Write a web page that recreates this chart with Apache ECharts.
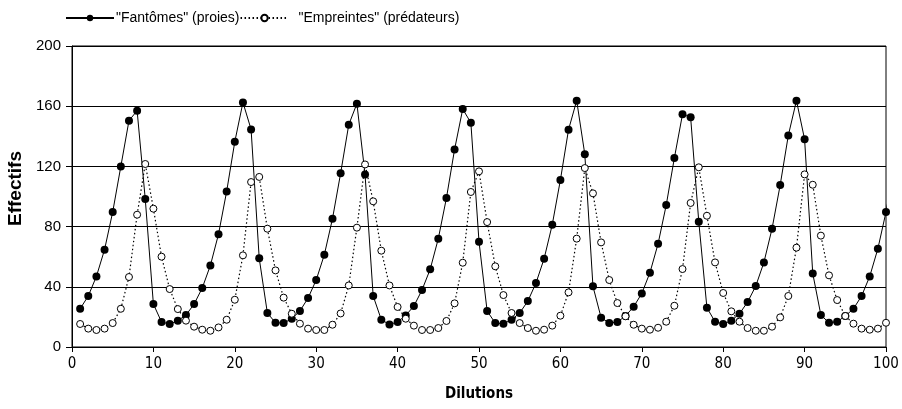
<!DOCTYPE html>
<html>
<head>
<meta charset="utf-8">
<script src="https://cdn.jsdelivr.net/npm/echarts@6/dist/echarts.min.js"></script>
<style>html,body{margin:0;padding:0;background:#fff}#c{width:902px;height:409px}</style>
</head>
<body>
<div id="c"></div>
<script>
const dilutions = [1,2,3,4,5,6,7,8,9,10,11,12,13,14,15,16,17,18,19,20,21,22,23,24,25,26,27,28,29,30,31,32,33,34,35,36,37,38,39,40,41,42,43,44,45,46,47,48,49,50,51,52,53,54,55,56,57,58,59,60,61,62,63,64,65,66,67,68,69,70,71,72,73,74,75,76,77,78,79,80,81,82,83,84,85,86,87,88,89,90,91,92,93,94,95,96,97,98,99,100,101];
const fantomes = [25.4,33.9,46.9,64.7,89.7,120,150.4,157,98.3,28.5,16.6,15.3,17.5,21.2,28.5,39.2,54.2,75,103.4,136.4,162.5,144.6,58.9,22.6,16.1,15.9,18.8,23.9,32.5,44.5,61.3,85.2,115.4,147.7,161.7,114.7,33.9,18.1,15,16.6,21,27.2,37.9,51.6,72,99,131.3,158.1,149,70,23.9,15.9,15.5,18.1,22.6,30.5,42.5,58.7,81.3,111,144.4,163.7,128,40.3,19.5,15.9,16.6,20.6,26.8,35.6,49.4,68.6,94.3,125.6,154.6,152.6,83.3,26.1,16.8,15.3,17.5,22.1,29.9,40.5,56.2,78.6,107.6,140.6,163.7,138,48.9,21.2,16.1,16.8,20.6,25.4,33.9,46.9,65.3,89.7,121];
const empreintes = [15.3,12.2,11.3,12.2,15.9,25.4,46.5,87.9,121.6,91.9,60,38.5,25.2,17.5,13.5,11.5,10.8,13,18.1,31.4,60.9,109.6,113,78.6,50.9,32.8,22.1,15.5,12.2,11.3,11.3,14.8,22.3,40.9,79.3,121.3,96.8,64,40.9,26.6,18.8,14.2,11.3,11.3,12.6,17.3,29,56,103,116.7,83,53.6,34.5,22.6,15.9,12.6,10.8,11.5,14.2,20.8,36.3,72,118.9,102.1,69.5,44.5,29.2,20.4,14.8,12.2,11.5,12.8,16.8,27.4,51.8,95.7,119.4,87.2,56.2,35.9,23.7,16.8,12.6,10.8,10.8,13.5,19.7,33.9,66,114.7,107.8,74,47.6,31.2,20.6,15.5,12.2,11.5,12.2,16.1,25];
const seriesNames = ['"Fantômes" (proies)', '"Empreintes" (prédateurs)'];
const xTitle = 'Dilutions';
const yTitle = 'Effectifs';

function pairs(vals){
  return dilutions.map((d,i)=>{
    const item = {value:[d, vals[i]]};
    if (d > 100) item.symbol = 'none';
    return item;
  });
}

const chart = echarts.init(document.getElementById('c'));
const font = 'Liberation Sans, Arial, sans-serif';
const narrow = 'Liberation Sans Narrow, Arial Narrow, DejaVu Sans Condensed, sans-serif';
chart.setOption({
  animation:false,
  backgroundColor:'#fff',
  legend:{
    top:6, left:60,
    itemWidth:48, itemHeight:8, itemGap:0,
    textStyle:{fontFamily:font, fontSize:14, color:'#000', padding:[0,0,0,-3]},
    data: [
      {name:seriesNames[0]},
      {name:seriesNames[1], textStyle:{padding:[0,0,0,5]}}
    ]
  },
  grid:{left:72, right:16, top:46, bottom:62, show:true, borderColor:'#000', borderWidth:1, backgroundColor:'transparent', outerBoundsMode:'none', containLabel:false},
  xAxis:{
    type:'value', min:0, max:100, interval:10,
    axisLine:{lineStyle:{color:'#000', width:1}},
    axisTick:{show:true, length:5, lineStyle:{color:'#000'}},
    axisLabel:{fontFamily:narrow, fontSize:15, color:'#000', margin:10, showMaxLabel:true},
    splitLine:{show:false},
    name:xTitle, nameLocation:'middle', nameGap:40,
    nameTextStyle:{fontFamily:narrow, fontSize:15, fontWeight:'bold', color:'#000'}
  },
  yAxis:{
    type:'value', min:0, max:200, interval:40,
    axisLine:{show:true, lineStyle:{color:'#000', width:1}},
    axisTick:{show:true, inside:false, length:6, lineStyle:{color:'#000'}},
    axisLabel:{fontFamily:font, fontSize:15, color:'#000', margin:11},
    splitLine:{show:true, lineStyle:{color:'#000', width:1}},
    name:yTitle, nameLocation:'middle', nameGap:47, nameRotate:90,
    nameTextStyle:{fontFamily:font, fontSize:19, fontWeight:'bold', color:'#000', padding:[0,0,0,16]}
  },
  series:[
    {
      name:seriesNames[0], type:'line', data:pairs(fantomes), clip:false,
      symbol:'circle', symbolSize:8, showAllSymbol:true,
      lineStyle:{color:'#000', width:1, type:'solid'},
      itemStyle:{color:'#000', borderColor:'#000', borderWidth:0},
      z:3
    },
    {
      name:seriesNames[1], type:'line', data:pairs(empreintes), clip:false,
      symbol:'circle', symbolSize:7, showAllSymbol:true,
      lineStyle:{color:'#000', width:1.2, type:[1.5,2.5]},
      itemStyle:{color:'#fff', borderColor:'#000', borderWidth:1},
      z:4
    }
  ]
});
</script>
</body>
</html>
